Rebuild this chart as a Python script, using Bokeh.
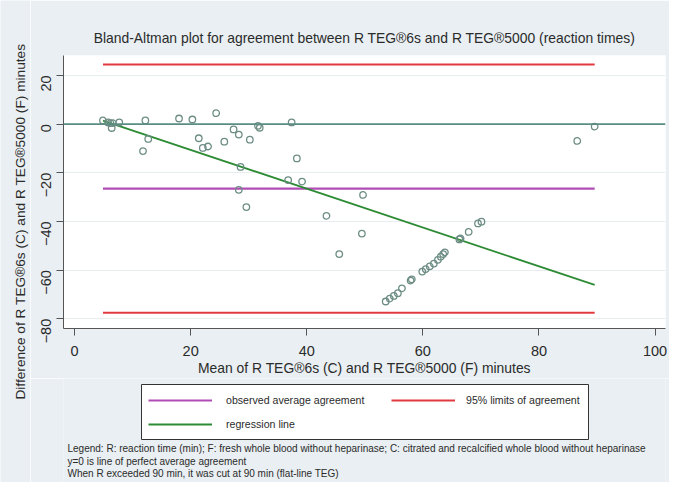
from bokeh.plotting import figure
from bokeh.models import (Range1d, FixedTicker, Span, Legend, LegendItem, Label, Title,
                          BoxAnnotation)
from bokeh.layouts import row, column
from bokeh.embed import file_html
from bokeh.resources import INLINE
import math

# ---------------- data ----------------
mean_vals = [4.9, 5.8, 6.2, 6.6, 6.4, 7.7, 12.2, 11.8, 12.7, 18.0, 20.3, 24.4,
             21.4, 22.1, 23.0, 25.8, 27.4, 28.3, 30.2, 28.6, 28.3, 29.6, 31.6,
             31.9, 37.4, 38.3, 36.8, 39.2, 43.4, 49.7, 49.5, 45.6,
             53.6, 54.3, 55.0, 55.7, 56.4, 57.9, 58.1, 59.9, 60.5, 61.2, 61.9,
             62.6, 63.1, 63.5, 63.8, 66.3, 66.5, 67.9, 69.5, 70.1, 86.6, 89.6]
diff_vals = [1.5, 0.7, 0.4, 0.4, -1.6, 0.7, 1.5, -11.1, -6.1, 2.3, 1.9, 4.5,
             -5.8, -9.8, -9.2, -7.2, -2.2, -4.3, -6.4, -17.6, -27.0, -34.1, -0.7,
             -1.5, 0.7, -14.1, -23.0, -23.6, -37.7, -29.1, -45.0, -53.4,
             -72.9, -71.7, -70.6, -69.5, -67.5, -64.3, -63.8, -60.6, -59.6, -58.5, -57.3,
             -55.8, -54.5, -53.4, -52.7, -47.4, -47.0, -44.3, -40.8, -40.1, -6.9, -1.0]

mean_diff = -26.5          # observed average agreement
loa_upper = 24.5           # 95% limits of agreement
loa_lower = -77.5
zero_ref = 0               # perfect agreement
line_x = [4.9, 89.6]       # extent of reference lines (min/max of means)
reg_y = [1.45, -66.1]      # regression line at line_x

x_ticks = [0, 20, 40, 60, 80, 100]
y_ticks = [-80, -60, -40, -20, 0, 20]

title_text = "Bland-Altman plot for agreement between R TEG\u00ae6s and R TEG\u00ae5000 (reaction times)"
x_title = "Mean of R TEG\u00ae6s (C) and R TEG\u00ae5000 (F) minutes"
y_title = "Difference of R TEG\u00ae6s (C) and R TEG\u00ae5000 (F) minutes"
legend_labels = ["observed average agreement", "95% limits of agreement", "regression line"]
notes = ["Legend: R: reaction time (min); F: fresh whole blood without heparinase; C: citrated and recalcified whole blood without heparinase",
         "y=0 is line of perfect average agreement",
         "When R exceeded 90 min, it was cut at 90 min (flat-line TEG)"]

# ---------------- styling ----------------
BG = "#e9eff2"
FONT = "Liberation Sans"
TXT = "#2b2b2b"
PURPLE = "#b04cb4"
RED = "#e23b3f"
GREEN = "#2e8b35"
TEAL = "#5a8c84"
MARK = "#6d8d84"

W_LEFT = 30
W_MAIN = 639
H_MAIN = 378
H_BOT = 104
H_TOT = H_MAIN + H_BOT

# ---------------- left strip with the y title ----------------
pl = figure(width=W_LEFT, height=H_TOT, output_backend="svg", toolbar_location=None,
            x_range=Range1d(0, 1), y_range=Range1d(0, 1),
            min_border=0, background_fill_color=BG, border_fill_color=BG,
            outline_line_color=None)
pl.axis.visible = False
pl.grid.visible = False
pl.add_layout(Label(x=20, y=H_TOT - 221, x_units="screen", y_units="screen",
                    text=y_title, angle=math.pi / 2, text_align="center",
                    text_baseline="middle", text_font=FONT, text_font_size="13.7px",
                    text_color=TXT))

# ---------------- main plot ----------------
p = figure(width=W_MAIN, height=H_MAIN, output_backend="svg", toolbar_location=None,
           x_range=Range1d(-1.9, 101.8), y_range=Range1d(-84.0, 28.2),
           min_border_left=33, min_border_right=4, min_border_top=55, min_border_bottom=47,
           background_fill_color="white", border_fill_color=BG, outline_line_color=None)

p.title = Title(text=title_text, align="center", text_font=FONT, text_font_size="13.9px",
                text_font_style="normal", text_color=TXT, standoff=19)

p.xgrid.visible = False
p.ygrid.ticker = FixedTicker(ticks=y_ticks)
p.ygrid.grid_line_color = "#e8edef"
p.ygrid.grid_line_width = 1

for ax in (p.xaxis[0], p.yaxis[0]):
    ax.axis_line_color = "#555555"
    ax.major_tick_line_color = "#555555"
    ax.major_tick_out = 7
    ax.major_tick_in = 0
    ax.minor_tick_line_color = None
    ax.major_label_text_font = FONT
    ax.major_label_text_font_size = "14.5px"
    ax.major_label_text_color = TXT
    ax.axis_label_text_font = FONT
    ax.axis_label_text_font_size = "13.9px"
    ax.axis_label_text_font_style = "normal"
    ax.axis_label_text_color = TXT

p.xaxis.ticker = FixedTicker(ticks=x_ticks)
p.yaxis.ticker = FixedTicker(ticks=y_ticks)
p.xaxis.axis_label = x_title
p.xaxis.major_label_standoff = 10
p.xaxis.axis_label_standoff = 1
p.yaxis.major_label_orientation = math.pi / 2
p.yaxis.major_label_standoff = 10

p.add_layout(Span(location=zero_ref, dimension="width", line_color=TEAL, line_width=1.8))

p.line(line_x, [mean_diff, mean_diff], line_color=PURPLE, line_width=2.2)
p.line(line_x, [loa_upper, loa_upper], line_color=RED, line_width=2)
p.line(line_x, [loa_lower, loa_lower], line_color=RED, line_width=2)
p.line(line_x, reg_y, line_color=GREEN, line_width=1.8)

p.scatter(mean_vals, diff_vals, marker="circle", size=6.5, fill_color=None,
          line_color=MARK, line_width=1.3)

# ---------------- bottom strip: legend + notes ----------------
pb = figure(width=W_MAIN, height=H_BOT, output_backend="svg", toolbar_location=None,
            x_range=Range1d(0, 1), y_range=Range1d(0, 1),
            min_border=0, background_fill_color=BG, border_fill_color=BG,
            outline_line_color=None)
pb.axis.visible = False
pb.grid.visible = False
# legend sample renderers (kept outside the visible range of this strip)
g_mean = pb.line([-3, -2], [-3, -3], line_color=PURPLE, line_width=2.2)
g_loa = pb.line([-3, -2], [-3, -3], line_color=RED, line_width=2)
g_reg = pb.line([-3, -2], [-3, -3], line_color=GREEN, line_width=1.8)

pb.add_layout(BoxAnnotation(left=78, right=525, top=98, bottom=43,
                            left_units="screen", right_units="screen",
                            top_units="screen", bottom_units="screen",
                            fill_color="white", fill_alpha=1.0,
                            line_color="#333333", line_width=1, line_alpha=1.0))

common = dict(glyph_width=64, glyph_height=18, label_height=18, label_width=0,
              spacing=6, padding=0, margin=0, border_line_color=None,
              background_fill_alpha=0.0, label_text_font=FONT,
              label_text_font_size="10.6px", label_text_color=TXT)
leg_a = Legend(items=[LegendItem(label=legend_labels[0], renderers=[g_mean]),
                      LegendItem(label=legend_labels[2], renderers=[g_reg])],
               location=(85, 49), orientation="vertical", label_standoff=14, **common)
leg_b = Legend(items=[LegendItem(label=legend_labels[1], renderers=[g_loa])],
               location=(328, 73), orientation="vertical", label_standoff=11, **common)
pb.add_layout(leg_a, "center")
pb.add_layout(leg_b, "center")

for i, t in enumerate(notes):
    pb.add_layout(Label(x=4, y=34 - 12.5 * i, x_units="screen", y_units="screen",
                        text=t, text_font=FONT, text_font_size="10px", text_color=TXT,
                        text_baseline="middle"))

layout = row(pl, column(p, pb, spacing=0), spacing=0)
open("out.html", "w").write(file_html(layout, INLINE))
